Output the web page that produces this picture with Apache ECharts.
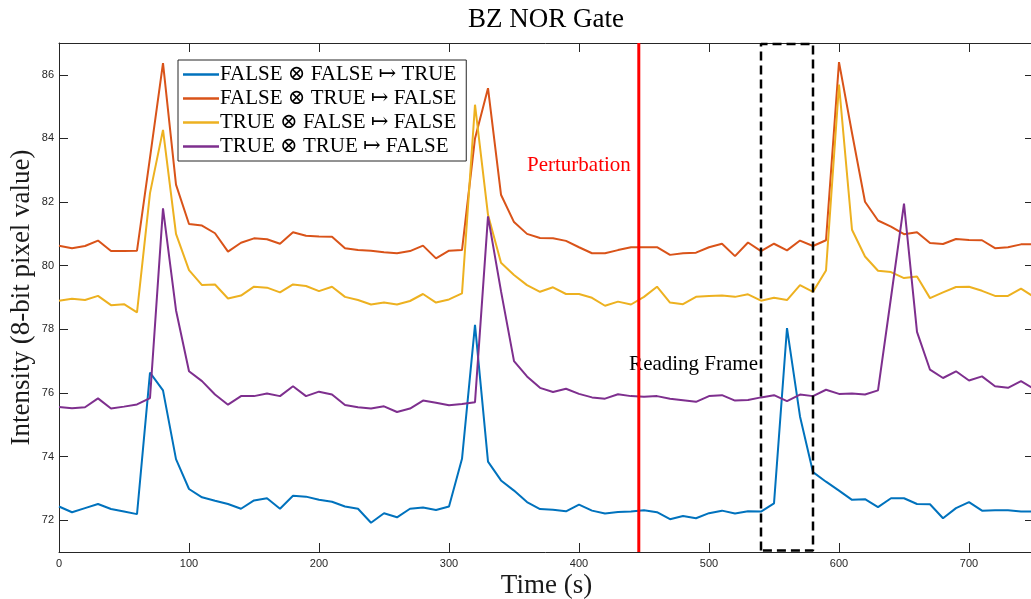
<!DOCTYPE html>
<html><head><meta charset="utf-8">
<script src="https://cdn.jsdelivr.net/npm/echarts@6/dist/echarts.min.js"></script>
<style>html,body{margin:0;padding:0;background:#fff}#c{width:1031px;height:599px}</style>
</head><body><div id="c"></div>
<script>
// ---- data ----
const times = [0,10,20,30,40,50,60,70,80,90,100,110,120,130,140,150,160,170,180,190,200,210,220,230,240,250,260,270,280,290,300,310,320,330,340,350,360,370,380,390,400,410,420,430,440,450,460,470,480,490,500,510,520,530,540,550,560,570,580,590,600,610,620,630,640,650,660,670,680,690,700,710,720,730,740,750];
const seriesNames = ['FALSE \u2297 FALSE \u21A6 TRUE','FALSE \u2297 TRUE \u21A6 FALSE','TRUE \u2297 FALSE \u21A6 FALSE','TRUE \u2297 TRUE \u21A6 FALSE'];
const ffValues = [72.43,72.25,72.38,72.51,72.35,72.27,72.19,76.64,76.08,73.92,72.98,72.72,72.61,72.51,72.36,72.62,72.69,72.36,72.77,72.74,72.64,72.58,72.43,72.36,71.92,72.22,72.09,72.36,72.40,72.32,72.43,73.93,78.14,73.84,73.25,72.93,72.57,72.35,72.33,72.28,72.49,72.30,72.21,72.26,72.27,72.31,72.25,72.03,72.13,72.06,72.22,72.30,72.21,72.28,72.27,72.53,78.04,75.26,73.51,73.21,72.93,72.64,72.66,72.41,72.69,72.69,72.51,72.50,72.06,72.38,72.57,72.30,72.31,72.31,72.27,72.27];
const ftValues = [80.63,80.55,80.62,80.79,80.46,80.46,80.47,83.40,86.37,82.55,81.31,81.26,81.02,80.44,80.72,80.86,80.83,80.69,81.05,80.94,80.92,80.91,80.55,80.49,80.47,80.42,80.39,80.46,80.63,80.23,80.47,80.49,84.00,85.58,82.23,81.37,81.00,80.87,80.86,80.78,80.58,80.39,80.39,80.49,80.58,80.58,80.58,80.34,80.39,80.41,80.58,80.69,80.30,80.73,80.46,80.69,80.48,80.79,80.62,80.80,86.40,84.17,82.01,81.42,81.23,80.99,81.05,80.71,80.68,80.84,80.81,80.80,80.55,80.58,80.67,80.67];
const tfValues = [78.90,78.96,78.92,79.05,78.76,78.79,78.53,82.28,84.27,81.00,79.86,79.39,79.41,78.97,79.06,79.34,79.31,79.16,79.41,79.36,79.20,79.34,79.02,78.92,78.78,78.84,78.78,78.89,79.11,78.84,78.94,79.13,85.06,81.60,80.09,79.71,79.39,79.18,79.32,79.11,79.11,78.99,78.74,78.87,78.78,79.02,79.34,78.84,78.79,79.02,79.05,79.06,79.02,79.10,78.90,78.99,78.92,79.39,79.18,79.85,85.69,81.13,80.29,79.84,79.80,79.61,79.66,78.98,79.16,79.33,79.34,79.21,79.05,79.05,79.28,79.02];
const ttValues = [75.56,75.52,75.55,75.83,75.51,75.57,75.64,75.84,81.80,78.60,76.68,76.37,75.95,75.63,75.90,75.90,75.98,75.90,76.21,75.90,76.04,75.95,75.62,75.55,75.51,75.58,75.40,75.51,75.76,75.69,75.61,75.65,75.71,81.55,79.20,77.00,76.52,76.16,76.03,76.13,75.97,75.86,75.82,75.96,75.90,75.88,75.90,75.82,75.77,75.72,75.90,75.93,75.76,75.78,75.86,75.93,75.74,75.95,75.90,76.10,75.97,75.98,75.95,76.08,79.00,81.95,77.92,76.73,76.47,76.68,76.39,76.52,76.21,76.16,76.37,76.13];
const xTickLabels = [0,100,200,300,400,500,600,700];
const yTickLabels = [72,74,76,78,80,82,84,86];
const xMin = 0, xMax = 750, yMin = 71, yMax = 87;
const perturbationTime = 446;
const perturbationLabelY = 83.16;
const frameStart = 540, frameEnd = 580, frameBottom = 71.05, frameTop = 86.97;
const frameLabelY = 76.88;
const titleText = 'BZ NOR Gate';
const xName = 'Time (s)';
const yName = 'Intensity (8-bit pixel value)';

// ---- chart ----
const colors = ['#0072BD','#D95319','#EDB120','#7E2F8E'];
const serif = "'Liberation Serif','DejaVu Serif',serif";
const sans = "'Liberation Sans','DejaVu Sans',sans-serif";
const axisColor = '#262626';
const pair = vals => times.map((t,i)=>[t, vals[i]]);
const allVals = [ffValues, ftValues, tfValues, ttValues];

const xAxisBase = {
  type:'value', min:xMin, max:xMax, interval:100,
  axisLine:{show:true,onZero:false,lineStyle:{color:axisColor,width:1}},
  axisTick:{show:true,inside:true,length:9,lineStyle:{color:axisColor,width:1}},
  splitLine:{show:false}
};
const yAxisBase = {
  type:'value', min:yMin, max:yMax, splitNumber:8, minInterval:2, maxInterval:2,
  axisLine:{show:true,onZero:false,lineStyle:{color:axisColor,width:1}},
  axisTick:{show:true,inside:true,length:9,lineStyle:{color:axisColor,width:1}},
  splitLine:{show:false}
};

const series = allVals.map((vals,i)=>({
  name: seriesNames[i], type:'line', data: pair(vals), showSymbol:false, symbol:'none',
  lineStyle:{color:colors[i], width:2}, itemStyle:{color:colors[i]}, z:2
}));
series.push({
  type:'line', name:'perturbation', data:[[perturbationTime,yMin],[perturbationTime,yMax]],
  symbol:'none', lineStyle:{color:'#ff0000', width:3}, silent:true, z:4
});
series.push({
  type:'line', name:'frame',
  data:[[frameStart,frameBottom],[frameStart,frameTop],[frameEnd,frameTop],[frameEnd,frameBottom],[frameStart,frameBottom]],
  symbol:'none', lineStyle:{color:'#000', width:2.5, type:[9,5]}, silent:true, z:4
});
series.push({
  type:'scatter', name:'labels', symbolSize:0, silent:true, z:3,
  itemStyle:{opacity:1},
  data:[
    {value:[perturbationTime, perturbationLabelY], label:{show:true, position:'left', distance:8, formatter:'Perturbation', color:'#ff0000', fontFamily:serif, fontSize:21}},
    {value:[frameStart, frameLabelY], label:{show:true, position:'left', distance:3, formatter:'Reading Frame', color:'#000', fontFamily:serif, fontSize:21}}
  ]
});

const chart = echarts.init(document.getElementById('c'), null, {renderer:'canvas'});
chart.setOption({
  animation:false,
  backgroundColor:'#fff',
  title:{text:titleText, left:546, textAlign:'center', top:6, padding:0,
    textStyle:{fontFamily:serif, fontSize:27, fontWeight:'normal', color:'#000'}},
  grid:{left:59, top:43, width:975, height:509, containLabel:false, outerBoundsMode:'none'},
  legend:{
    data:seriesNames, orient:'vertical', left:178, top:60,
    padding:[4,10,4,5], itemGap:3, itemWidth:36, itemHeight:2.5, icon:'rect',
    backgroundColor:'#fff', borderColor:axisColor, borderWidth:1,
    textStyle:{fontFamily:serif, fontSize:21, color:'#000', padding:[0,0,0,-4]},
    selectedMode:false
  },
  xAxis:[
    Object.assign({}, xAxisBase, {position:'bottom', name:xName, nameLocation:'middle', nameGap:20, nameMoveOverlap:false,
      nameTextStyle:{fontFamily:serif, fontSize:27, color:'#1a1a1a'},
      axisLabel:{show:true, margin:6, fontFamily:sans, fontSize:11, color:axisColor,
        formatter:v=>xTickLabels.includes(v)?String(v):''}}),
    Object.assign({}, xAxisBase, {position:'top', axisLabel:{show:false}})
  ],
  yAxis:[
    Object.assign({}, yAxisBase, {position:'left', name:yName, nameLocation:'middle', nameGap:24, nameRotate:90, nameMoveOverlap:false,
      nameTextStyle:{fontFamily:serif, fontSize:27, color:'#1a1a1a'},
      axisLabel:{show:true, margin:5, fontFamily:sans, fontSize:11, color:axisColor,
        formatter:v=>yTickLabels.includes(v)?String(v):''}}),
    Object.assign({}, yAxisBase, {position:'right', axisLabel:{show:false}})
  ],
  series: series
});
</script></body></html>
